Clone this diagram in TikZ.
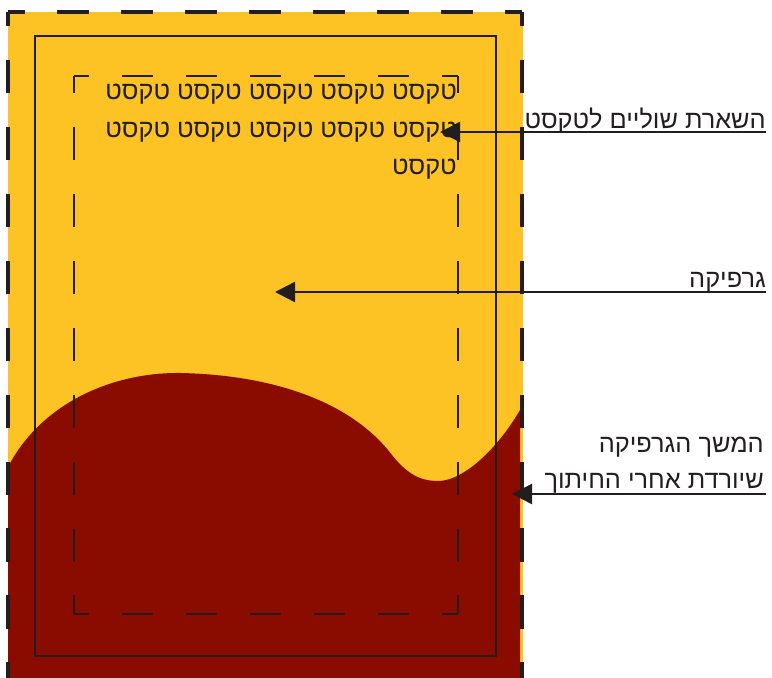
\documentclass[tikz,border=0pt]{standalone}
\usepackage{fontspec}
\usetikzlibrary{arrows.meta}
\newfontfamily\hebfont[Script=Hebrew]{Liberation Sans}
\TeXXeTstate=1
\definecolor{pagegold}{RGB}{253,194,35}
\definecolor{graphicred}{RGB}{138,11,0}
\definecolor{inkgray}{RGB}{34,30,31}

\begin{document}
\begin{tikzpicture}[x=0.75pt, y=-0.75pt,
	every node/.style={font=\hebfont\fontsize{19}{28}\selectfont, text=inkgray, inner sep=0pt},
	trimline/.style={inkgray, line width=2.3pt},
	safeline/.style={inkgray, line width=1.8pt},
	pointer/.style={inkgray, line width=1.8pt, -{Triangle[length=15pt,width=15pt]}}]
	\useasboundingbox (0,0) rectangle (772,678);
	\clip (0,0) rectangle (772,678);
	\fill[pagegold] (8,12) rectangle (523,690);
	\fill[graphicred] (8,467) .. controls (40,405) and (110,372) .. (181,373) .. controls (270,375) and (350,400) .. (392,455) .. controls (410,478) and (425,481) .. (438,481) .. controls (465,481) and (500,445) .. (520,410) -- (520,690) -- (8,690) -- cycle;
	\draw[trimline, dash pattern=on 24pt off 24pt, dash phase=11.25pt] (8,12) -- (522,12);
	\foreach \x in {8,522} {\draw[trimline, dash pattern=on 25.1pt off 25.1pt, dash phase=14.25pt] (\x,12) -- (\x,690);}
	\draw[inkgray, line width=2pt] (35,36) rectangle (496,656);
	\foreach \y in {76,614} {\draw[safeline, dash pattern=on 23.25pt off 24.75pt, dash phase=12pt] (74,\y) -- (458,\y);}
	\foreach \x in {74,458} {\draw[safeline, dash pattern=on 25.1pt off 25.1pt, dash phase=12pt] (\x,76) -- (\x,614);}
	\node[anchor=north east, align=right] (copy) at (457,84) {\beginR טקסט טקסט טקסט טקסט טקסט\endR\\ \beginR טקסט טקסט טקסט טקסט טקסט\endR\\ \beginR טקסט\endR};
	\coordinate (marginend) at (766,132);
	\coordinate (margintip) at (440,132);
	\node[anchor=base east] (marginlbl) at (766,128) {\beginR השארת שוליים לטקסט\endR};
	\draw[pointer] (marginend) -- (margintip);
	\coordinate (graphicend) at (766,292);
	\coordinate (graphictip) at (275,292);
	\node[anchor=base east] (graphiclbl) at (766,287) {\beginR גרפיקה\endR};
	\draw[pointer] (graphicend) -- (graphictip);
	\coordinate (bleedend) at (766,494);
	\coordinate (bleedtip) at (512,494);
	\node[anchor=south east, align=right, font=\hebfont\fontsize{19}{27}\selectfont] (bleedlbl) at (764,494) {\beginR המשך הגרפיקה\endR\\ \beginR שיורדת אחרי החיתוך\endR};
	\draw[pointer] (bleedend) -- (bleedtip);
\end{tikzpicture}
\end{document}
